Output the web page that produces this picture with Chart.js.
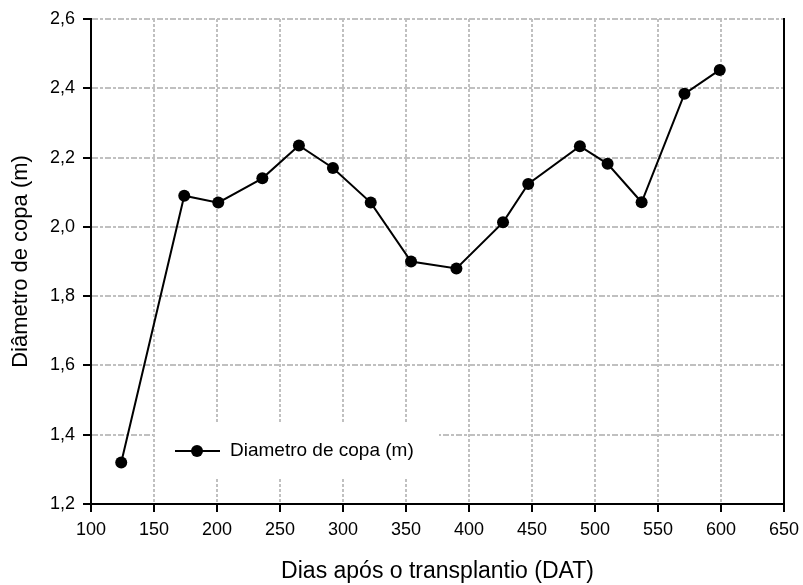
<!DOCTYPE html>
<html lang="pt">
  <head>
    <meta charset="UTF-8" />
    <title>Diametro de copa</title>
    <style>
      html, body {
        margin: 0;
        padding: 0;
        background: #fff;
      }
      .wrap {
        width: 803px;
        height: 585px;
      }
    </style>
  </head>
  <body>
    <div class="wrap">
      <canvas id="chart" width="803" height="585"></canvas>
    </div>

    <script src="https://cdn.jsdelivr.net/npm/chart.js"></script>
    <script>
      // dias apos transplantio e diametro de copa
      const dias = [124, 174, 201, 236, 265, 292, 322, 354, 390, 427, 447, 488, 510, 537, 571, 599];
      const diametro = [1.32, 2.09, 2.07, 2.14, 2.235, 2.17, 2.07, 1.90, 1.88, 2.013, 2.124, 2.233, 2.182, 2.071, 2.384, 2.453];
      const xTicks = [100, 150, 200, 250, 300, 350, 400, 450, 500, 550, 600, 650];
      const yTicks = [1.2, 1.4, 1.6, 1.8, 2.0, 2.2, 2.4, 2.6];

      const fam = "'Liberation Sans', Arial, sans-serif";
      const grey = "#c0c0c0";

      // legenda dentro do grafico, com fundo branco por cima da grade
      const insideLegend = {
        id: "insideLegend",
        beforeDatasetsDraw(chart) {
          const ctx = chart.ctx;
          const ds = chart.data.datasets[0];
          ctx.save();
          ctx.fillStyle = "#fff";
          ctx.fillRect(157, 423, 282, 55);
          const y = 451;
          ctx.strokeStyle = "#000";
          ctx.lineWidth = 2;
          ctx.beginPath();
          ctx.moveTo(175, y);
          ctx.lineTo(220, y);
          ctx.stroke();
          ctx.fillStyle = "#000";
          ctx.beginPath();
          ctx.arc(197, y, 6, 0, Math.PI * 2);
          ctx.fill();
          ctx.font = "19px " + fam;
          ctx.textBaseline = "middle";
          ctx.fillText(ds.label, 230, y);
          ctx.restore();
        },
        afterDraw(chart) {
          // borda direita
          const a = chart.chartArea;
          const ctx = chart.ctx;
          ctx.save();
          ctx.strokeStyle = "#000";
          ctx.lineWidth = 2;
          ctx.beginPath();
          ctx.moveTo(a.right, a.top - 1);
          ctx.lineTo(a.right, a.bottom);
          ctx.stroke();
          ctx.restore();
        },
      };

      const points = dias.map((d, i) => ({ x: d, y: diametro[i] }));

      new Chart(document.getElementById("chart"), {
        type: "line",
        data: {
          datasets: [
            {
              label: "Diametro de copa (m)",
              data: points,
              borderColor: "#000",
              backgroundColor: "#000",
              borderWidth: 2,
              pointRadius: 6,
              pointBackgroundColor: "#000",
              pointBorderWidth: 0,
              tension: 0,
            },
          ],
        },
        options: {
          responsive: false,
          animation: false,
          layout: { padding: { top: 19, right: 19, left: 0, bottom: 0 } },
          plugins: {
            legend: { display: false },
            tooltip: { enabled: false },
          },
          scales: {
            x: {
              type: "linear",
              min: 100,
              max: 650,
              afterBuildTicks(scale) {
                scale.ticks = xTicks.map((v) => ({ value: v }));
              },
              afterFit(scale) {
                scale.height = 81;
                scale.paddingRight = 0;
                scale.paddingLeft = 0;
              },
              ticks: {
                color: "#000",
                font: { family: fam, size: 18 },
                padding: 7,
                maxRotation: 0,
              },
              grid: {
                color: grey,
                lineWidth: 2,
                tickLength: 8,
                tickColor: "#000",
                tickBorderDash: [],
              },
              border: { color: "#000", width: 2, dash: [3, 2] },
              title: {
                display: true,
                text: "Dias após o transplantio (DAT)",
                color: "#000",
                font: { family: fam, size: 23 },
                padding: { top: 0, bottom: 0 },
              },
            },
            y: {
              min: 1.2,
              max: 2.6,
              afterBuildTicks(scale) {
                scale.ticks = yTicks.map((v) => ({ value: v }));
              },
              afterFit(scale) {
                scale.width = 91;
              },
              ticks: {
                color: "#000",
                font: { family: fam, size: 18 },
                padding: 8,
                callback: (v) => v.toFixed(1).replace(".", ","),
              },
              grid: {
                color: grey,
                lineWidth: 2,
                tickLength: 8,
                tickColor: "#000",
                tickBorderDash: [],
              },
              border: { color: "#000", width: 2, dash: [6, 2, 3, 2] },
              title: {
                display: true,
                text: "Diâmetro de copa (m)",
                color: "#000",
                font: { family: fam, size: 22 },
                padding: { top: 8, bottom: 0 },
              },
            },
          },
        },
        plugins: [insideLegend],
      });
    </script>
  </body>
</html>
